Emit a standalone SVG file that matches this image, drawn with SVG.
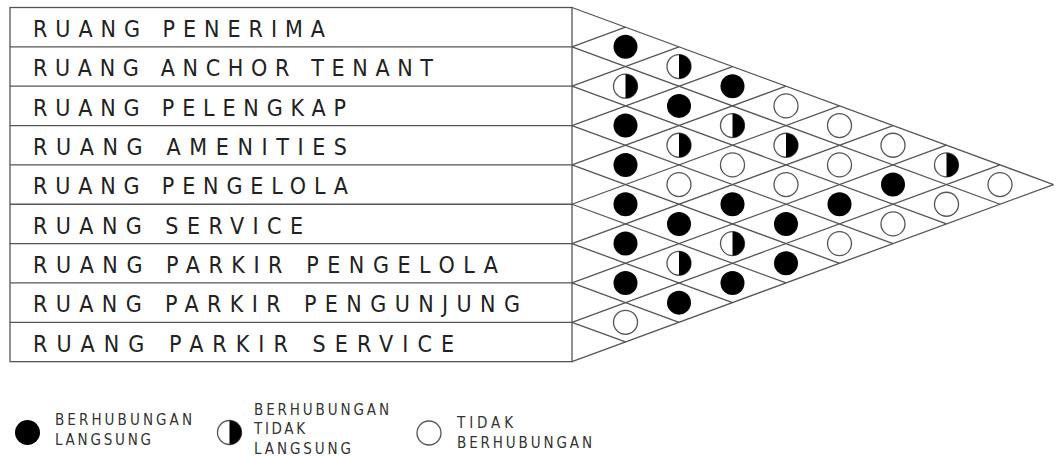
<svg xmlns="http://www.w3.org/2000/svg" xmlns:xlink="http://www.w3.org/1999/xlink" width="1056" height="457" viewBox="0 0 1056 457">
<style>
.ln{stroke:#555;stroke-width:1.3;fill:none}
.lbl{font-family:"DejaVu Sans Condensed","DejaVu Sans",sans-serif;font-size:23px;fill:#222}
.lg{font-family:"DejaVu Sans Condensed","DejaVu Sans",sans-serif;font-size:15px;fill:#333}
</style>
<defs>
<g id="full"><circle r="12" fill="#000"/></g>
<g id="half"><circle r="12" fill="#fff" stroke="#555" stroke-width="1.3"/><path d="M0,-12 A12,12 0 0 1 0,12 Z" fill="#000"/></g>
<g id="open"><circle r="12" fill="#fff" stroke="#555" stroke-width="1.3"/></g>
</defs>
<rect width="1056" height="457" fill="#fff"/>
<g id="table">
<rect class="ln" x="10" y="7.5" width="562" height="354.15"/>
<path class="ln" d="M10,46.85H572M10,86.2H572M10,125.55H572M10,164.9H572M10,204.25H572M10,243.6H572M10,282.95H572M10,322.3H572"/>
</g>
<g id="row0"><text class="lbl" x="33" y="37" textLength="292" lengthAdjust="spacing">RUANG PENERIMA</text></g>
<g id="row1"><text class="lbl" x="33" y="76.3" textLength="400" lengthAdjust="spacing">RUANG ANCHOR TENANT</text></g>
<g id="row2"><text class="lbl" x="33" y="115.6" textLength="313" lengthAdjust="spacing">RUANG PELENGKAP</text></g>
<g id="row3"><text class="lbl" x="33" y="155" textLength="314" lengthAdjust="spacing">RUANG AMENITIES</text></g>
<g id="row4"><text class="lbl" x="33" y="194.3" textLength="315" lengthAdjust="spacing">RUANG PENGELOLA</text></g>
<g id="row5"><text class="lbl" x="33" y="233.6" textLength="270" lengthAdjust="spacing">RUANG SERVICE</text></g>
<g id="row6"><text class="lbl" x="33" y="273" textLength="465" lengthAdjust="spacing">RUANG PARKIR PENGELOLA</text></g>
<g id="row7"><text class="lbl" x="33" y="312.3" textLength="487" lengthAdjust="spacing">RUANG PARKIR PENGUNJUNG</text></g>
<g id="row8"><text class="lbl" x="33" y="351.6" textLength="421" lengthAdjust="spacing">RUANG PARKIR SERVICE</text></g>
<g id="connectors">
<path class="ln" d="M572,7.5L1053.5,184.575M572,46.85L1000,204.25M572,86.2L946.5,223.925M572,125.55L893,243.6M572,164.9L839.5,263.275M572,204.25L786,282.95M572,243.6L732.5,302.625M572,282.95L679,322.3M572,322.3L625.5,341.975"/>
<path class="ln" d="M572,46.85L625.5,27.175M572,86.2L679,46.85M572,125.55L732.5,66.525M572,164.9L786,86.2M572,204.25L839.5,105.875M572,243.6L893,125.55M572,282.95L946.5,145.225M572,322.3L1000,164.9M572,361.65L1053.5,184.575"/>
</g>
<g id="cells">
<use href="#full" x="625.5" y="46.85"/>
<use href="#half" x="625.5" y="86.2"/>
<use href="#full" x="625.5" y="125.55"/>
<use href="#full" x="625.5" y="164.9"/>
<use href="#full" x="625.5" y="204.25"/>
<use href="#full" x="625.5" y="243.6"/>
<use href="#full" x="625.5" y="282.95"/>
<use href="#open" x="625.5" y="322.3"/>
<use href="#half" x="679" y="66.525"/>
<use href="#full" x="679" y="105.875"/>
<use href="#half" x="679" y="145.225"/>
<use href="#open" x="679" y="184.575"/>
<use href="#full" x="679" y="223.925"/>
<use href="#half" x="679" y="263.275"/>
<use href="#full" x="679" y="302.625"/>
<use href="#full" x="732.5" y="86.2"/>
<use href="#half" x="732.5" y="125.55"/>
<use href="#open" x="732.5" y="164.9"/>
<use href="#full" x="732.5" y="204.25"/>
<use href="#half" x="732.5" y="243.6"/>
<use href="#full" x="732.5" y="282.95"/>
<use href="#open" x="786" y="105.875"/>
<use href="#half" x="786" y="145.225"/>
<use href="#open" x="786" y="184.575"/>
<use href="#full" x="786" y="223.925"/>
<use href="#full" x="786" y="263.275"/>
<use href="#open" x="839.5" y="125.55"/>
<use href="#open" x="839.5" y="164.9"/>
<use href="#full" x="839.5" y="204.25"/>
<use href="#open" x="839.5" y="243.6"/>
<use href="#open" x="893" y="145.225"/>
<use href="#full" x="893" y="184.575"/>
<use href="#open" x="893" y="223.925"/>
<use href="#half" x="946.5" y="164.9"/>
<use href="#open" x="946.5" y="204.25"/>
<use href="#open" x="1000" y="184.575"/>
</g>
<g id="legend-langsung">
<circle cx="27.5" cy="432.5" r="12.5" fill="#000"/>
<text class="lg" x="55" y="425" textLength="137" lengthAdjust="spacing">BERHUBUNGAN</text>
<text class="lg" x="55" y="445" textLength="96" lengthAdjust="spacing">LANGSUNG</text>
</g>
<g id="legend-tidak-langsung">
<use href="#half" x="229.5" y="432.5"/>
<text class="lg" x="254" y="415" textLength="135" lengthAdjust="spacing">BERHUBUNGAN</text>
<text class="lg" x="254" y="434" textLength="51" lengthAdjust="spacing">TIDAK</text>
<text class="lg" x="254" y="454" textLength="97" lengthAdjust="spacing">LANGSUNG</text>
</g>
<g id="legend-tidak">
<use href="#open" x="429" y="433"/>
<text class="lg" x="457" y="428" textLength="56" lengthAdjust="spacing">TIDAK</text>
<text class="lg" x="457" y="448" textLength="135" lengthAdjust="spacing">BERHUBUNGAN</text>
</g>
</svg>
